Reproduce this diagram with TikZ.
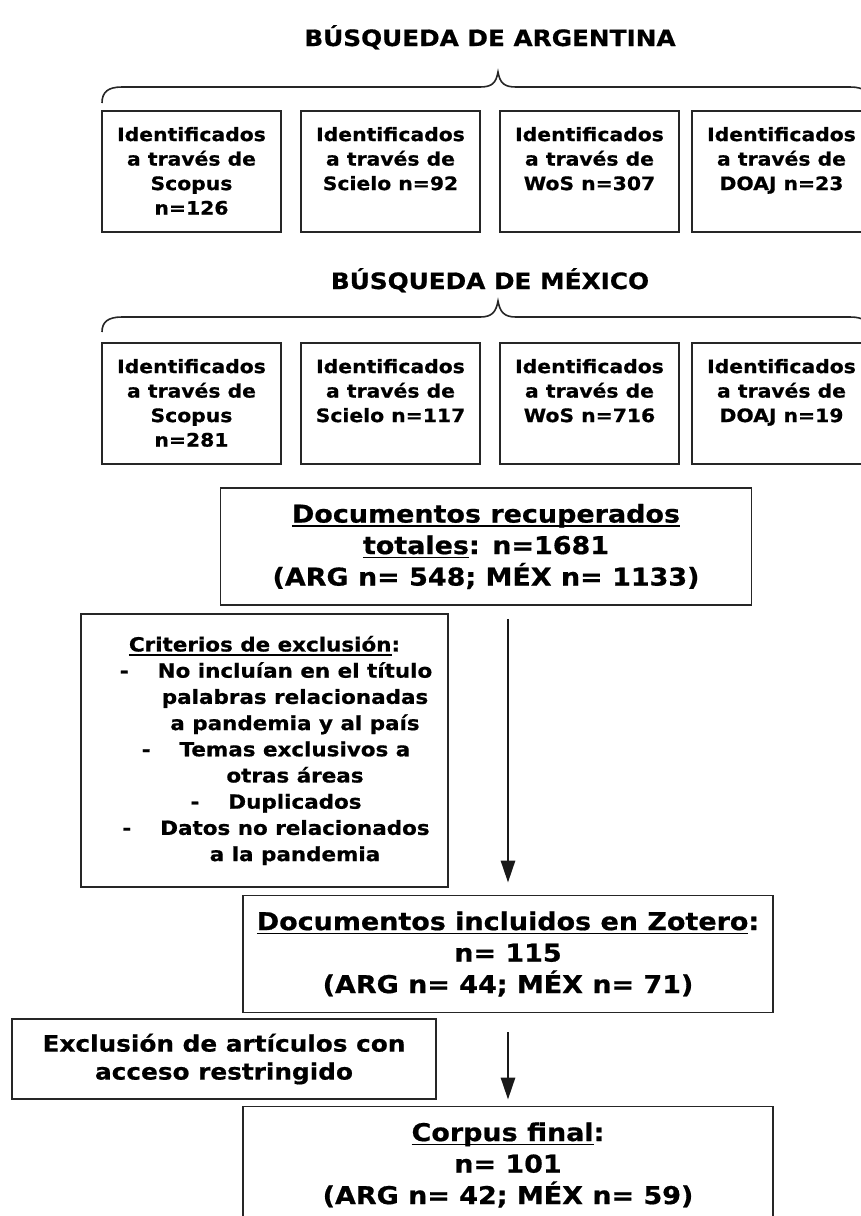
\documentclass[tikz,border=0pt]{standalone}
\usepackage{fontspec}
\setmainfont{DejaVu Sans}[FakeStretch=1.1, BoldFeatures={FakeBold=0.7}]
\usetikzlibrary{arrows.meta}
\tikzset{>={Triangle[length=22pt,width=14pt]}}
\tikzset{%
  box/.style={draw=black!85, line width=1.8pt, inner sep=4pt, align=center},
  idbox/.style={box, font=\bfseries\fontsize{18.5}{24.5}\selectfont},
  bigbox/.style={box, minimum width=531pt, minimum height=117pt, font=\bfseries\fontsize{24.5}{31.5}\selectfont},
  title/.style={anchor=base, font=\bfseries\fontsize{22.5}{27}\selectfont},
  brace/.style={draw=black!85, line width=1.6pt},
  flow/.style={->, line width=2.8pt, black!90}
}
% text of a source box, kept at the top of the box
\newcommand{\idtext}[1]{\parbox[c][113pt][t]{171pt}{\centering\vspace*{12pt}#1}}
% underlined words
\newsavebox{\undlbox}
\newcommand{\undl}[1]{\sbox{\undlbox}{#1}\rlap{\rule[-4.2pt]{\wd\undlbox}{1.4pt}}\usebox{\undlbox}}

\begin{document}
\begin{tikzpicture}[x=1pt, y=-1pt]

  \useasboundingbox (0,0) rectangle (861,1216);
  \clip (0,0) rectangle (861,1216);

  % search in Argentina
  \node[title] (argtitle) at (490,46) {BÚSQUEDA DE ARGENTINA};
  \draw[brace] (102,103) .. controls (102,92) and (108,87) .. (122,87) -- (480,87)
    .. controls (492,87) and (496,83) .. (498,72) .. controls (500,83) and (504,87) .. (516,87)
    -- (850,87) .. controls (864,87) and (870,92) .. (870,103);

  \node[idbox] (arg1) at (191.5,171.5) {\idtext{Identificados\\a través de\\Scopus\\n=126}};
  \node[idbox] (arg2) at (390.5,171.5) {\idtext{Identificados\\a través de\\Scielo n=92}};
  \node[idbox] (arg3) at (589.5,171.5) {\idtext{Identificados\\a través de\\WoS n=307}};
  \node[idbox] (arg4) at (781.5,171.5) {\idtext{Identificados\\a través de\\DOAJ n=23}};

  % search in Mexico
  \node[title] (mextitle) at (490,289) {BÚSQUEDA DE MÉXICO};
  \draw[brace] (102,332) .. controls (102,322) and (108,317) .. (122,317) -- (480,317)
    .. controls (492,317) and (496,312) .. (498,301) .. controls (500,312) and (504,317) .. (516,317)
    -- (850,317) .. controls (864,317) and (870,322) .. (870,332);

  \node[idbox] (mex1) at (191.5,403.5) {\idtext{Identificados\\a través de\\Scopus\\n=281}};
  \node[idbox] (mex2) at (390.5,403.5) {\idtext{Identificados\\a través de\\Scielo n=117}};
  \node[idbox] (mex3) at (589.5,403.5) {\idtext{Identificados\\a través de\\WoS n=716}};
  \node[idbox] (mex4) at (781.5,403.5) {\idtext{Identificados\\a través de\\DOAJ n=19}};

  % documents retrieved, filtered and kept
  \node[bigbox] (recup) at (486,546.5) {\undl{Documentos recuperados}\\\undl{totales}: n=1681\\(ARG n= 548; MÉX n= 1133)};

  \node[box, minimum width=367pt, minimum height=273pt, font=\bfseries\fontsize{19.5}{26.2}\selectfont] (criterios) at (264.5,750.5)
    {\undl{Criterios de exclusión}:\\
     \hspace*{23pt}-\hspace{29pt}No incluían en el título\\
     \hspace*{61pt}palabras relacionadas\\
     \hspace*{61pt}a pandemia y al país\\
     \hspace*{23pt}-\hspace{29pt}Temas exclusivos a\\
     \hspace*{61pt}otras áreas\\
     \hspace*{23pt}-\hspace{29pt}Duplicados\\
     \hspace*{23pt}-\hspace{29pt}Datos no relacionados\\
     \hspace*{61pt}a la pandemia};

  \node[bigbox, minimum width=530pt] (zotero) at (508,954) {\undl{Documentos incluidos en Zotero}:\\n= 115\\(ARG n= 44; MÉX n= 71)};

  \node[box, minimum width=424pt, minimum height=80pt, font=\bfseries\fontsize{22.5}{28}\selectfont] (exclusion) at (224,1059)
    {Exclusión de artículos con\\acceso restringido};

  \node[bigbox, minimum width=530pt] (corpus) at (508,1165) {\undl{Corpus final}:\\n= 101\\(ARG n= 42; MÉX n= 59)};

  % arrows between the stages
  \draw[flow, shorten <=13pt, shorten >=12pt] (recup.south -| zotero.north) -- (zotero.north);
  \draw[flow, shorten <=19pt, shorten >=6pt] (zotero.south) -- (corpus.north);

\end{tikzpicture}
\end{document}
